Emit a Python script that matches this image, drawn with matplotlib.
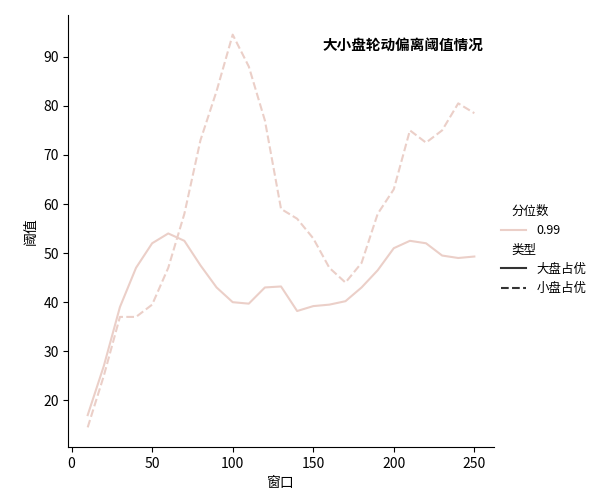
import matplotlib.pyplot as plt
from matplotlib.lines import Line2D

plt.rcParams['font.family'] = ['Noto Sans CJK SC', 'DejaVu Sans']
plt.rcParams['axes.unicode_minus'] = False

windows = list(range(10, 260, 10))
large_cap = [17, 27, 39, 47, 52, 54, 52.5, 47.5, 43, 40, 39.7, 43, 43.2, 38.2, 39.2,
             39.5, 40.2, 43, 46.5, 51, 52.5, 52, 49.5, 49, 49.3]
small_cap = [14.5, 25, 37, 37, 39.5, 47, 58, 73, 83, 94.5, 88, 77, 59, 57, 53,
             47, 44, 48, 58, 63, 75, 72.5, 75, 80.5, 78.5]

color = '#ebcfc8'
fig = plt.figure(figsize=(6.05, 5), dpi=100)
ax = fig.add_axes([0.113, 0.106, 0.703, 0.864])
ax.plot(windows, large_cap, color=color, lw=1.5)
ax.plot(windows, small_cap, color=color, lw=1.5, ls='--')
ax.set_xlabel('窗口')
ax.set_ylabel('阈值')
ax.set_yticks(range(20, 100, 10))
ax.spines['top'].set_visible(False)
ax.spines['right'].set_visible(False)
ax.text(0.975, 0.95, '大小盘轮动偏离阈值情况', transform=ax.transAxes,
        ha='right', va='top', fontweight='bold', fontsize=10.5)

handles = [Line2D([], [], ls='none'), Line2D([], [], color=color, lw=1.5),
           Line2D([], [], ls='none'), Line2D([], [], color='#333333', lw=1.5),
           Line2D([], [], color='#333333', lw=1.5, ls='--')]
labels = ['分位数', '0.99', '类型', '大盘占优', '小盘占优']
leg = fig.legend(handles, labels, loc='center left', bbox_to_anchor=(0.81, 0.5),
                 frameon=False, fontsize=9, handlelength=2)
for t in (leg.get_texts()[0], leg.get_texts()[2]):
    t.set_position((-25, 0))
fig.savefig('out.png')
